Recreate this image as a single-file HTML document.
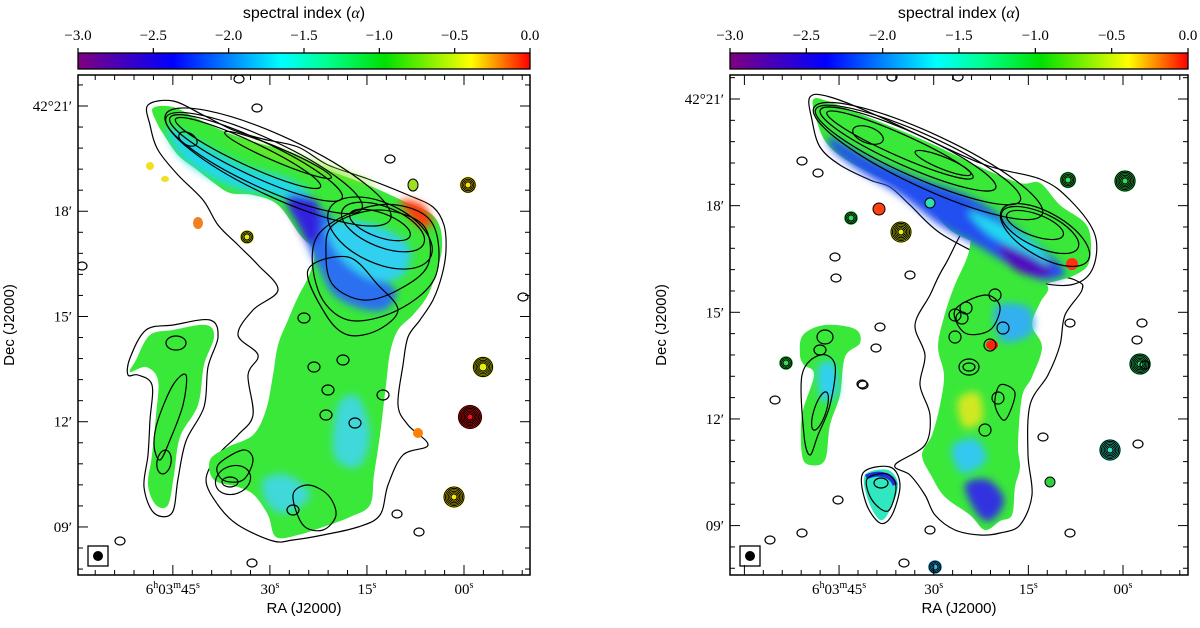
<!DOCTYPE html>
<html><head><meta charset="utf-8">
<style>
html,body{margin:0;padding:0;background:#fff;}
svg text{font-family:"Liberation Serif",serif;}
.sans{font-family:"Liberation Sans",sans-serif;}
</style></head>
<body>
<svg id="fig" width="1200" height="623" viewBox="0 0 1200 623" xmlns="http://www.w3.org/2000/svg">
<defs>
<linearGradient id="cmap" x1="0" x2="1" y1="0" y2="0">
<stop offset="0" stop-color="#800080"/>
<stop offset="0.21" stop-color="#0000ff"/>
<stop offset="0.45" stop-color="#00ffff"/>
<stop offset="0.55" stop-color="#00ff90"/>
<stop offset="0.68" stop-color="#00e000"/>
<stop offset="0.87" stop-color="#ffff00"/>
<stop offset="1" stop-color="#ff0000"/>
</linearGradient>
<filter id="soft" x="-20%" y="-20%" width="140%" height="140%"><feGaussianBlur stdDeviation="4"/></filter>
<clipPath id="clipL"><rect x="0" y="0" width="452" height="500"/></clipPath>
<clipPath id="clipR"><rect x="0" y="0" width="458" height="500"/></clipPath>
</defs>
<g id="left"></g>
<g id="right"></g>
</svg>
<script>
// colorbar data
const cbTicks = [-3.0, -2.5, -2.0, -1.5, -1.0, -0.5, 0.0];
const cbLabels = ["\u22123.0","\u22122.5","\u22122.0","\u22121.5","\u22121.0","\u22120.5","0.0"];
// axis tick data
const raMajor = [45, 30, 15, 0];
const raLabelsMajor = ["45", "30", "15", "00"];
const decMajor = [21, 18, 15, 12, 9];
const decLabels = ["42\u00b021\u2032","18\u2032","15\u2032","12\u2032","09\u2032"];

const NS = "http://www.w3.org/2000/svg";
function mk(tag, attrs, parent){
  const e = document.createElementNS(NS, tag);
  for (const k in attrs) e.setAttribute(k, attrs[k]);
  if (parent) parent.appendChild(e);
  return e;
}
function smooth(pts){
  const n = pts.length; let d = "M"+pts[0][0]+","+pts[0][1];
  for (let i=0;i<n;i++){
    const p0=pts[(i-1+n)%n],p1=pts[i],p2=pts[(i+1)%n],p3=pts[(i+2)%n];
    const c1=[p1[0]+(p2[0]-p0[0])/6,p1[1]+(p2[1]-p0[1])/6];
    const c2=[p2[0]-(p3[0]-p1[0])/6,p2[1]-(p3[1]-p1[1])/6];
    d+="C"+c1[0].toFixed(1)+","+c1[1].toFixed(1)+" "+c2[0].toFixed(1)+","+c2[1].toFixed(1)+" "+p2[0]+","+p2[1];
  }
  return d+"Z";
}

function panel(root, cfg){
  const W = cfg.w, H = 500, ox = cfg.x, oy = 75;
  const raX = s => cfg.ra0 - s*cfg.raScale;
  const decY = d => cfg.dec21 + (21-d)*cfg.decScale;
  const cbx = ox, cbw = W, cby = 53, cbh = 16;
  const cbX = v => cbx + (v+3)/3*cbw;
  const cb = mk("g",{},root);
  
  
  mk("rect",{x:cbx,y:cby,width:cbw,height:cbh,fill:"url(#cmap)",stroke:"#000","stroke-width":1.3},cb);
  cbTicks.forEach((v,i)=>{
    const x = cbX(v);
    mk("line",{x1:x,x2:x,y1:cby-5,y2:cby,stroke:"#000","stroke-width":1.2},cb);
    const t = mk("text",{x:x,y:40,"text-anchor":"middle","font-size":15},cb);
    
    
    t.textContent = cbLabels[i];
  });
  const title = mk("text",{x:cbx+cbw/2,y:18,"text-anchor":"middle","font-size":16,class:"sans"},root);
  
  
  title.innerHTML = 'spectral index (<tspan font-family="Liberation Serif" font-style="italic">α</tspan>)';

  const img = mk("g",{transform:"translate("+ox+","+oy+")","clip-path":cfg.clip},root);
  
  
  cfg.draw(img);

  const fr = mk("rect",{x:ox,y:oy,width:W,height:H,fill:"none",stroke:"#000","stroke-width":1.5},root);
  
  
  const axes = mk("g",{stroke:"#000","stroke-width":1},root);
  for (let s=-12; s<=60; s+=3){
    const x = raX(s); if (x<=ox+1||x>=ox+W-1) continue;
    const L = (s%15===0)?10:5;
    mk("line",{x1:x,x2:x,y1:oy+H,y2:oy+H-L},axes);
    mk("line",{x1:x,x2:x,y1:oy,y2:oy+L},axes);
  }
  for (let m=6; m<=24; m+=0.6){
    const y = decY(m); if (y<=oy+1||y>=oy+H-1) continue;
    const major = Math.abs(m-Math.round(m))<0.01 && Math.round(m)%3===0;
    const L = major?10:5;
    mk("line",{x1:ox,x2:ox+L,y1:y,y2:y},axes);
    mk("line",{x1:ox+W,x2:ox+W-L,y1:y,y2:y},axes);
  }
  raMajor.forEach((s,i)=>{
    const t = mk("text",{x:raX(s),y:594,"text-anchor":"middle","font-size":15},root);
    
    
    if (i===0) t.innerHTML = '6<tspan font-size="10" dy="-6">h</tspan><tspan dy="6">03</tspan><tspan font-size="10" dy="-6">m</tspan><tspan dy="6">45</tspan><tspan font-size="10" dy="-6">s</tspan>';
    else t.innerHTML = raLabelsMajor[i]+'<tspan font-size="10" dy="-6">s</tspan>';
  });
  decMajor.forEach((d,i)=>{
    const t = mk("text",{x:ox-6,y:decY(d)+5,"text-anchor":"end","font-size":15},root);
    
    
    t.textContent = decLabels[i];
  });
  const xl = mk("text",{x:ox+W/2,y:613,"text-anchor":"middle","font-size":15,class:"sans"},root);
  
  
  xl.textContent = "RA (J2000)";
  const yl = mk("text",{x:0,y:0,"text-anchor":"middle","font-size":15,class:"sans",transform:"translate("+(ox-64)+",325) rotate(-90)"},root);
  
  
  yl.textContent = "Dec (J2000)";
  const bm = mk("g",{},root);
  
  
  mk("rect",{x:ox+10,y:546,width:20,height:20,fill:"none",stroke:"#000","stroke-width":1.3},bm);
  mk("circle",{cx:ox+20,cy:556,r:5,fill:"#000"},bm);
}

function src(g, x, y, core, rings, r0){
  const s = mk("g",{},g);
  
  
  if (core) mk("circle",{cx:x,cy:y,r:r0+rings*1.3,fill:core},s);
  for (let i=0;i<rings;i++) mk("circle",{cx:x,cy:y,r:r0+i*1.4,fill:"none",stroke:"#000","stroke-width":1},s);
}
function blob(g, pts, fill, extra){
  return mk("path",Object.assign({d:smooth(pts),fill:fill},extra||{}),g);
}
function contour(g, pts, w){
  return mk("path",{d:smooth(pts),fill:"none",stroke:"#000","stroke-width":w||1.2},g);
}
function ell(g,cx,cy,rx,ry,rot){
  mk("ellipse",{cx,cy,rx,ry,transform:"rotate("+rot+" "+cx+" "+cy+")",fill:"none",stroke:"#000","stroke-width":1.2},g);
}

// ---------------- LEFT ----------------
function drawLeft(g){
  const main = [[75,33],[95,32],[120,44],[150,58],[180,68],[215,78],[250,95],[290,110],[330,128],[352,138],[362,152],[364,172],[360,192],[350,220],[335,240],[320,255],[312,278],[308,310],[302,360],[296,400],[292,430],[272,442],[245,452],[220,460],[198,462],[190,440],[176,420],[160,412],[136,405],[132,385],[150,372],[175,360],[188,335],[195,300],[200,270],[210,245],[220,222],[232,198],[236,176],[222,160],[200,130],[175,120],[152,118],[136,108],[118,94],[100,80],[86,60],[78,46]];
  const outer = [[70,30],[95,26],[125,40],[155,55],[185,64],[220,72],[250,90],[290,104],[330,120],[355,132],[366,150],[368,175],[364,200],[355,225],[342,245],[330,262],[325,290],[320,330],[330,350],[350,370],[325,380],[310,410],[302,440],[280,452],[245,460],[215,465],[195,466],[160,450],[140,430],[128,405],[140,380],[160,360],[175,340],[170,300],[180,280],[160,260],[175,235],[200,215],[180,190],[160,170],[140,150],[125,125],[100,100],[80,75],[72,50]];
  const fil = [[72,260],[95,255],[128,250],[136,262],[126,290],[120,330],[102,362],[96,400],[90,430],[78,430],[70,410],[74,380],[78,340],[80,305],[68,292],[52,297],[58,285]];
  const filOuter = [[68,255],[95,250],[132,245],[140,262],[130,292],[126,332],[108,366],[100,404],[94,438],[76,438],[66,412],[70,380],[72,345],[74,310],[60,300],[50,300],[52,283]];
  contour(g, outer, 1.2);
  contour(g, filOuter, 1.2);
  blob(g, main, "#3ae83a");
  blob(g, fil, "#3ae83a");
  const ov = mk("g",{filter:"url(#soft)"},g);
  blob(ov, [[90,52],[130,72],[170,92],[210,104],[232,120],[222,136],[200,122],[160,114],[125,98],[100,78]], "#22d8e8");
  blob(ov, [[228,140],[250,138],[268,170],[298,200],[318,216],[308,234],[284,234],[256,220],[242,195],[230,170]], "#2a70f0");
  blob(ov, [[208,122],[238,126],[242,158],[232,170],[220,150]], "#3020e0");
  blob(ov, [[250,150],[290,148],[330,170],[325,200],[295,205],[262,182]], "#30d0f0");
  blob(ov, [[150,62],[250,92],[300,112],[260,102],[200,84]], "#7ee81e");
  blob(ov, [[260,330],[280,322],[292,360],[280,392],[256,380]], "#40d8d8");
  blob(ov, [[185,405],[210,400],[232,420],[210,438],[190,430]], "#40d8d8");
  blob(ov, [[322,126],[345,130],[354,150],[340,150]], "#ff3a10");
  // tail contours
  ell(g,170,78,80,12,25); ell(g,178,83,95,18,25); ell(g,186,88,108,24,25);
  ell(g,200,80,58,7,23); ell(g,110,64,10,6,30);
  ell(g,200,92,124,30,25);
  // head contours
  ell(g,302,150,32,12,20); ell(g,305,152,44,20,22); ell(g,302,158,56,30,25);
  contour(g,[[255,150],[300,135],[345,150],[350,190],[320,215],[285,225],[255,210],[248,180]],1.2);
  contour(g,[[240,160],[300,130],[352,145],[358,200],[320,235],[270,245],[240,215]],1.2);
  contour(g,[[230,195],[270,182],[300,210],[320,235],[300,255],[270,260],[248,240]],1.2);
  contour(g,[[215,420],[230,410],[250,420],[258,440],[245,455],[225,450]],1.2);
  contour(g,[[140,390],[165,375],[175,385],[165,405],[145,405]],1.2);
  ell(g,152,407,8,5,0); ell(g,155,405,18,14,-20);
  contour(g,[[80,345],[95,310],[108,300],[105,330],[92,365],[82,385],[76,370]],1.2);
  ell(g,86,387,7,12,10); ell(g,98,268,10,7,0);
  [[236,292],[250,315],[265,285],[248,340],[215,435],[277,348],[305,320],[226,243]].forEach(p=>ell(g,p[0],p[1],6,5,0));
  src(g,390,110,"#ffe600",4,3);
  src(g,405,292,"#e6ee10",5,4);
  src(g,392,342,"#ff1010",7,3);
  src(g,376,422,"#ffe600",6,3);
  src(g,169,162,"#e6ee10",3,3);
  mk("ellipse",{cx:120,cy:148,rx:5,ry:6,fill:"#f08020"},g);
  mk("ellipse",{cx:72,cy:91,rx:4,ry:4,fill:"#f0e020"},g);
  mk("ellipse",{cx:87,cy:104,rx:4,ry:3,fill:"#f0e020"},g);
  mk("ellipse",{cx:335,cy:110,rx:5,ry:6,fill:"#a0e020",stroke:"#000","stroke-width":1},g);
  mk("ellipse",{cx:340,cy:358,rx:5,ry:5,fill:"#ff8000"},g);
  [[179,33],[312,84],[174,488],[42,466],[341,457],[319,439],[4,191],[445,222],[161,4]].forEach(p=>mk("ellipse",{cx:p[0],cy:p[1],rx:5,ry:4,fill:"none",stroke:"#000","stroke-width":1.2},g));
}

// ---------------- RIGHT ----------------
function drawRight(g){
  const tail = [[83,25],[100,27],[150,47],[200,68],[250,92],[290,108],[310,108],[330,130],[355,148],[361,168],[358,190],[345,200],[330,205],[312,208],[298,198],[278,186],[250,170],[220,155],[198,130],[170,112],[145,100],[118,86],[98,70],[88,50]];
  const body = [[245,148],[262,165],[300,196],[318,212],[310,228],[302,250],[312,272],[302,302],[292,322],[288,370],[290,392],[285,412],[282,440],[270,446],[255,455],[240,440],[215,422],[202,402],[192,380],[202,360],[210,330],[214,300],[208,272],[214,242],[224,212],[238,180]];
  const bodyOuter = [[250,140],[300,190],[345,205],[352,215],[335,240],[330,270],[318,300],[300,330],[298,380],[302,420],[290,450],[270,458],[250,460],[225,455],[205,440],[195,420],[180,400],[165,390],[195,370],[200,340],[190,310],[195,280],[185,250],[200,220],[215,190]];
  const fil = [[73,260],[95,250],[125,254],[130,268],[115,282],[110,320],[100,350],[95,385],[80,390],[72,380],[72,340],[84,300],[74,290],[70,280]];
  contour(g, bodyOuter, 1.2);
  contour(g,[[80,22],[100,22],[150,42],[250,88],[310,104],[340,125],[365,160],[362,195],[340,210],[300,205],[260,185],[210,158],[180,130],[160,112],[140,105],[110,90],[90,72],[82,45]],1.2);
  blob(g, body, "#3ae83a");
  blob(g, tail, "#3ae83a");
  blob(g, fil, "#3ae83a");
  const ov = mk("g",{filter:"url(#soft)"},g);
  blob(ov, [[100,62],[140,84],[190,104],[240,122],[280,148],[320,180],[335,198],[315,205],[290,196],[250,172],[210,150],[170,120],[130,96],[104,76]], "#2050f0");
  blob(ov, [[270,170],[315,182],[320,200],[298,200],[280,190]], "#5010c0");
  blob(ov, [[240,136],[300,165],[320,190],[300,180],[260,160]], "#20d8f0");
  blob(ov, [[235,410],[258,405],[274,425],[262,445],[248,440]], "#3030e0");
  blob(ov, [[222,372],[245,364],[256,385],[232,398]], "#30c8f0");
  blob(ov, [[265,232],[298,232],[302,258],[272,266]], "#30b0f0");
  blob(ov, [[228,325],[248,318],[252,345],[234,352]], "#d0e820");
  blob(ov, [[88,292],[104,288],[108,318],[92,326]], "#30d0f0");
  mk("ellipse",{cx:342,cy:189,rx:6,ry:6,fill:"#ff3010"},g);
  mk("ellipse",{cx:262,cy:270,rx:6,ry:5,fill:"#ff2010"},g);
  blob(g, [[135,400],[158,395],[168,410],[160,435],[150,445],[138,425]], "#30e8c0");
  mk("path",{d:"M136,402 C150,396 162,400 165,410",fill:"none",stroke:"#2030e0","stroke-width":5},g);
  contour(g,[[133,398],[160,392],[170,410],[162,440],[150,448],[136,428]],1.2);
  contour(g,[[137,404],[157,399],[166,412],[158,436],[142,425]],1.2);
  ell(g,151,408,7,5,0);
  // tail contours
  ell(g,170,70,80,11,24); ell(g,178,74,96,17,24); ell(g,188,80,112,22,24); ell(g,198,86,126,27,25);
  ell(g,138,60,16,8,20); ell(g,213,88,30,6,22);
  ell(g,305,150,30,11,20); ell(g,310,155,42,17,25); ell(g,315,160,50,22,30);
  contour(g,[[72,300],[90,280],[105,290],[100,330],[88,360],[80,380],[74,360]],1.2);
  ell(g,90,336,6,20,18); ell(g,95,262,8,7,0); ell(g,90,275,6,5,0);
  contour(g,[[225,235],[255,220],[270,232],[260,255],[235,258]],1.2);
  [[236,233],[225,240],[265,220],[273,253],[260,270],[225,262],[268,323],[255,355],[232,243]].forEach(p=>ell(g,p[0],p[1],6,6,0));
  ell(g,239,292,10,8,0); ell(g,239,292,6,4,0);
  contour(g,[[270,310],[285,318],[275,345],[265,330]],1.2);
  src(g,395,106,"#2ee050",6,3);
  src(g,338,105,"#2ee050",4,3);
  src(g,121,143,"#2ee050",3,3);
  src(g,171,157,"#e8f010",6,3);
  src(g,410,289,"#30e070",6,3);
  src(g,380,375,"#30e0c0",6,3);
  src(g,56,288,"#30e050",3,3);
  src(g,205,492,"#30b8f0",3,3);
  mk("ellipse",{cx:149,cy:134,rx:6,ry:6,fill:"#ff4010",stroke:"#000","stroke-width":1},g);
  mk("ellipse",{cx:320,cy:407,rx:5,ry:5,fill:"#30d040",stroke:"#000","stroke-width":1},g);
  mk("ellipse",{cx:200,cy:128,rx:5,ry:5,fill:"#30e0b0",stroke:"#000","stroke-width":1},g);
  [[72,86],[88,98],[105,182],[45,325],[132,309],[340,248],[412,248],[408,369],[150,252],[146,273],[133,310],[313,362],[108,425],[72,458],[40,465],[174,488],[407,265],[228,2],[162,2],[340,458],[180,200],[106,203],[200,455],[415,290]].forEach(p=>mk("ellipse",{cx:p[0],cy:p[1],rx:5,ry:4,fill:"none",stroke:"#000","stroke-width":1.2},g));
}

panel(document.getElementById("left"),{x:78,w:452,ra0:464,raScale:6.47,dec21:106,decScale:35.08,clip:"url(#clipL)",draw:drawLeft});
panel(document.getElementById("right"),{x:730,w:458,ra0:1123,raScale:6.31,dec21:99,decScale:35.55,clip:"url(#clipR)",draw:drawRight});
</script>
</body></html>
